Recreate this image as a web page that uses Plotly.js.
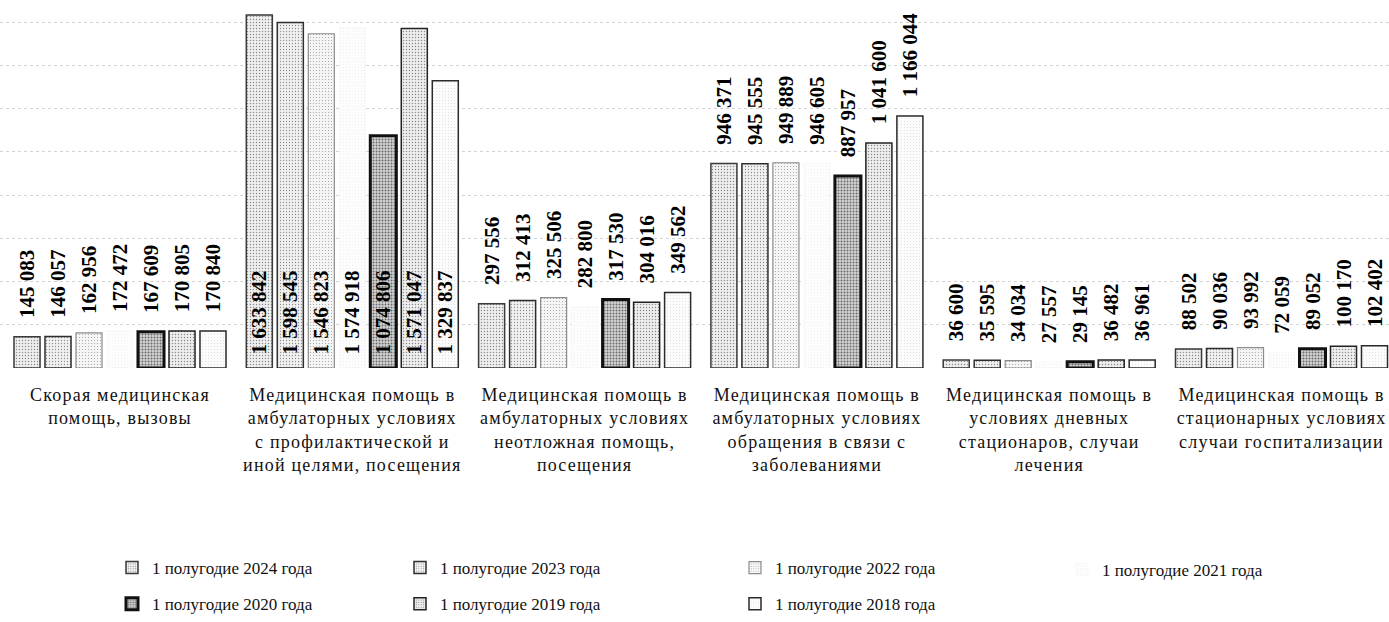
<!DOCTYPE html>
<html>
<head>
<meta charset="utf-8">
<script src="https://cdn.plot.ly/plotly-3.0.1.min.js"></script>
<style>
  html, body { margin: 0; padding: 0; background: #ffffff; }
  #chart { width: 1389px; height: 622px; }
  #chart .xtick text { letter-spacing: 1.2px; }
</style>
</head>
<body>
<div id="chart"></div>
<script>
// ---- data ----
const categories = [
  "Скорая медицинская<br>помощь, вызовы",
  "Медицинская помощь в<br>амбулаторных условиях<br>с профилактической и<br>иной целями, посещения",
  "Медицинская помощь в<br>амбулаторных условиях<br>неотложная помощь,<br>посещения",
  "Медицинская помощь в<br>амбулаторных условиях<br>обращения в связи с<br>заболеваниями",
  "Медицинская помощь в<br>условиях дневных<br>стационаров, случаи<br>лечения",
  "Медицинская помощь в<br>стационарных условиях<br>случаи госпитализации"
];
const seriesNames = [
  "1 полугодие 2024 года",
  "1 полугодие 2023 года",
  "1 полугодие 2022 года",
  "1 полугодие 2021 года",
  "1 полугодие 2020 года",
  "1 полугодие 2019 года",
  "1 полугодие 2018 года"
];
const values2024 = [145083, 1633842, 297556, 946371, 36600, 88502];
const values2023 = [146057, 1598545, 312413, 945555, 35595, 90036];
const values2022 = [162956, 1546823, 325506, 949889, 34034, 93992];
const values2021 = [172472, 1574918, 282800, 946605, 27557, 72059];
const values2020 = [167609, 1074806, 317530, 887957, 29145, 89052];
const values2019 = [170805, 1571047, 304016, 1041600, 36482, 100170];
const values2018 = [170840, 1329837, 349562, 1166044, 36961, 102402];
const allValues = [values2024, values2023, values2022, values2021, values2020, values2019, values2018];

// ---- styles ----
const SERIF = '"Liberation Serif", "Times New Roman", "DejaVu Serif", serif';
const styles = [
  {bg: '#efefef', fg: '#8a8a8a', sol: 0.18, line: '#3a3a3a', lw: 1.5},
  {bg: '#f1f1f1', fg: '#909090', sol: 0.15, line: '#2e2e2e', lw: 1.5},
  {bg: '#f5f5f5', fg: '#a0a0a0', sol: 0.12, line: '#8c8c8c', lw: 1.2},
  {bg: '#fdfdfd', fg: '#dddddd', sol: 0.05, line: '#f2f2f2', lw: 0.5},
  {bg: '#d4d4d4', fg: '#6a6a6a', sol: 0.35, line: '#111111', lw: 3},
  {bg: '#eeeeee', fg: '#8a8a8a', sol: 0.18, line: '#222222', lw: 1.5},
  {bg: '#fcfcfc', fg: '#c8c8c8', sol: 0.06, line: '#2a2a2a', lw: 1.5}
];
const legendOf = ['legend', 'legend2', 'legend3', 'legend4', 'legend', 'legend2', 'legend3'];

const NB = '\u00a0';
function fmt(v) {
  return String(v).replace(/\B(?=(\d{3})+(?!\d))/g, NB);
}
function lead(ci) {
  return ci === 1 ? 2 : 3;
}

const LBL = {family: SERIF, size: 21, color: '#000', weight: 'bold'};
const traces = allValues.map((vals, si) => ({
  type: 'bar',
  name: seriesNames[si],
  x: categories,
  y: vals,
  text: vals.map((v, ci) => NB.repeat(lead(ci)) + fmt(v)),
  textposition: vals.map((v, ci) => ci === 1 ? 'inside' : 'outside'),
  insidetextanchor: 'start',
  textangle: -90,
  constraintext: 'none',
  cliponaxis: false,
  textfont: LBL,
  insidetextfont: LBL,
  outsidetextfont: LBL,
  marker: {
    color: styles[si].bg,
    line: {color: styles[si].line, width: styles[si].lw},
    pattern: {shape: '.', fgcolor: styles[si].fg, bgcolor: styles[si].bg, size: 3, solidity: styles[si].sol}
  },
  legend: legendOf[si],
  legendgroup: 'g' + si,
  hoverinfo: 'none'
}));

function leg(xpx) {
  return {
    x: xpx / 1389, xanchor: 'left',
    y: (369 - 552) / 369, yanchor: 'top',
    orientation: 'v',
    font: {family: SERIF, size: 17, color: '#111'},
    bgcolor: 'rgba(0,0,0,0)',
    tracegroupgap: 11,
    itemclick: false, itemdoubleclick: false
  };
}

const layout = {
  width: 1389, height: 622,
  margin: {l: 0, r: 0, t: 0, b: 253},
  paper_bgcolor: '#ffffff',
  plot_bgcolor: '#ffffff',
  barmode: 'group',
  bargap: 0.066,
  bargroupgap: 0.16,
  font: {family: SERIF, size: 18, color: '#111'},
  xaxis: {
    type: 'category',
    range: [-0.5166, 5.4627],
    showgrid: false, zeroline: false, showline: false,
    ticks: '',
    ticklabelstandoff: 14,
    tickfont: {family: SERIF, size: 18, color: '#111'},
    tickangle: 0,
    automargin: false
  },
  yaxis: {
    range: [0, 1703000],
    showticklabels: false,
    tick0: 0, dtick: 200000,
    showgrid: true, gridcolor: '#d2d2d2', griddash: 'dot', gridwidth: 1,
    zeroline: false, showline: false,
    automargin: false
  },
  showlegend: true,
  legend: leg(112),
  legend2: leg(400),
  legend3: leg(735),
  legend4: leg(1062)
};

Plotly.newPlot('chart', traces, layout, {displayModeBar: false, staticPlot: true});
</script>
</body>
</html>
